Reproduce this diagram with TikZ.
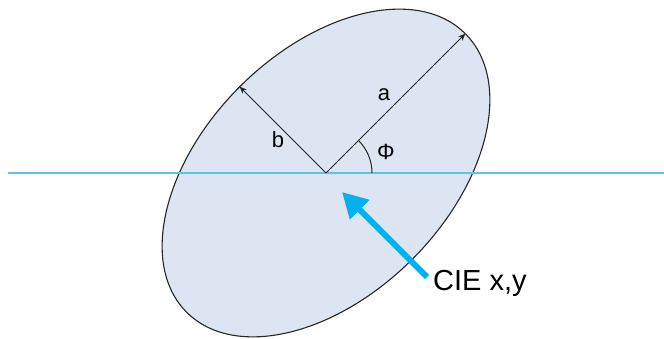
\documentclass[tikz,border=0pt]{standalone}
\usepackage{fontspec}
\setmainfont{Liberation Sans}
\usetikzlibrary{arrows.meta}
\definecolor{ellfill}{RGB}{220,229,241}
\definecolor{hline}{RGB}{90,195,240}
\definecolor{cie}{RGB}{0,176,240}
\tikzset{
  axisarrow/.style={draw=black!85, line width=1pt, -{Stealth[length=7pt,width=6pt]}},
  lbl/.style={font=\fontsize{22}{24}\selectfont, inner sep=0pt},
}
\begin{document}
\begin{tikzpicture}[x=1pt,y=1pt]
\useasboundingbox (0,0) rectangle (664,338);
\coordinate (c) at (326,165);
\path (c) ++(45:197) coordinate (ta);
\path (c) ++(135:122) coordinate (tb);
\path (c) ++(0:46) coordinate (arcs);
% ellipse
\draw[fill=ellfill, draw=black!85, line width=1.1pt, rotate around={45:(c)}] (c) ellipse [x radius=197, y radius=122];
% horizontal line
\coordinate (hl) at (8,165);
\coordinate (hr) at (664,165);
\draw[hline, line width=1.6pt] (hl) -- (hr);
% axes
\draw[axisarrow] (c) -- (ta);
\draw[axisarrow] (c) -- (tb);
% angle arc
\draw[black!85, line width=1pt] (arcs) arc[start angle=0, end angle=45, radius=46];
% labels
\node[lbl] (la) at (384,243) {a};
\node[lbl] (lb) at (278,198) {b};
\node[lbl] (lp) at (386,186) {Φ};
% CIE arrow
\node[anchor=west, inner sep=0pt, font=\fontsize{29}{32}\selectfont] (cietext) at (433,55) {CIE x,y};
\coordinate (tail) at (427,61);
\coordinate (tip) at (342,146);
\draw[cie, line width=6pt, -{Triangle[length=25pt,width=26pt]}] (tail) -- (tip);
\end{tikzpicture}
\end{document}
